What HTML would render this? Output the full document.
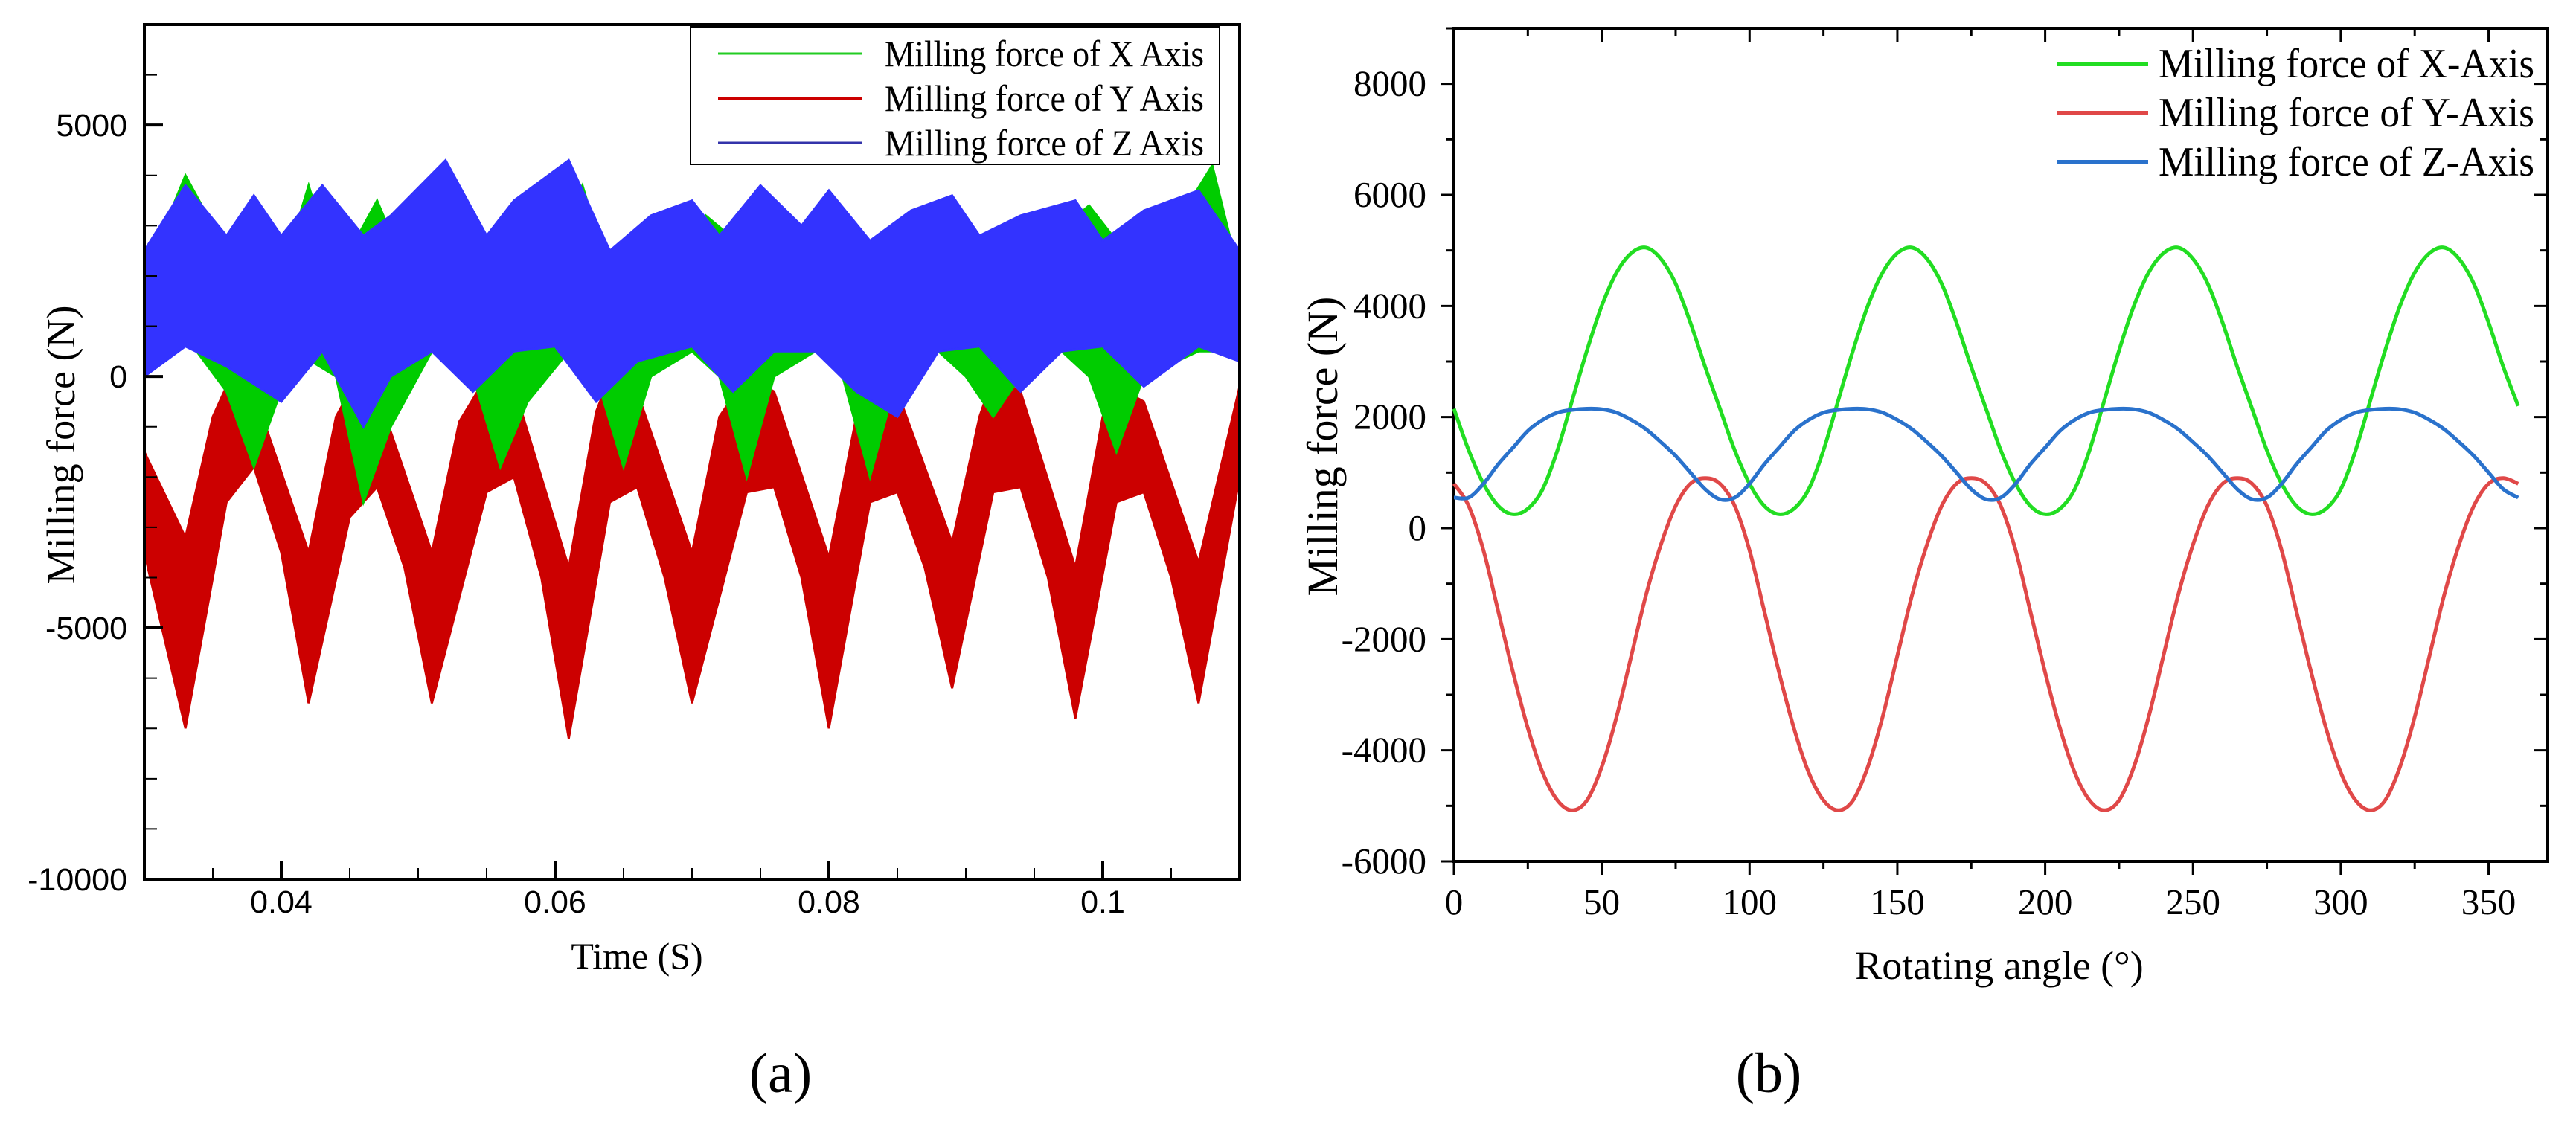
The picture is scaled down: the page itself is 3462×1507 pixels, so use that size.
<!DOCTYPE html>
<html><head><meta charset="utf-8"><style>
html,body{margin:0;padding:0;background:#fff}
svg{display:block}
</style></head><body>
<svg id="fig" width="3462" height="1507" viewBox="0 0 3462 1507" xmlns="http://www.w3.org/2000/svg">
<g id="chartA"></g>
<g id="chartB"></g>
<text x="1049" y="1468" font-family="Liberation Serif, serif" font-size="76" text-anchor="middle">(a)</text>
<text x="2377" y="1468" font-family="Liberation Serif, serif" font-size="76" text-anchor="middle">(b)</text>
</svg>
<script>
// ===== Chart A data (envelopes of noisy signals, [time, force]) =====
const aXTicks=[0.04,0.06,0.08,0.1];
const aXTickLabels=["0.04","0.06","0.08","0.1"];
const aYTicks=[5000,0,-5000,-10000];
const aYTickLabels=["5000","0","-5000","-10000"];
const aSeriesNames=["Milling force of X Axis","Milling force of Y Axis","Milling force of Z Axis"];
const yUpper=[[0.030,-1500],[0.033,-3200],[0.035,-800],[0.036,-200],[0.038,-300],[0.042,-3500],[0.044,-800],[0.045,-300],[0.047,-300],[0.051,-3500],[0.053,-900],[0.055,0],[0.057,-200],[0.061,-3800],[0.063,-700],[0.064,0],[0.066,-300],[0.070,-3500],[0.072,-800],[0.074,0],[0.076,-300],[0.080,-3600],[0.082,-800],[0.083,0],[0.085,-300],[0.089,-3300],[0.091,-800],[0.092,0],[0.094,-300],[0.098,-3800],[0.100,-800],[0.101,-200],[0.103,-500],[0.107,-3700],[0.110,-200]];
const yLower=[[0.030,-3500],[0.033,-7000],[0.036,-2500],[0.038,-1800],[0.040,-3500],[0.042,-6500],[0.045,-2800],[0.047,-2200],[0.049,-3800],[0.051,-6500],[0.055,-2300],[0.057,-2000],[0.059,-4000],[0.061,-7200],[0.064,-2500],[0.066,-2200],[0.068,-4000],[0.070,-6500],[0.074,-2300],[0.076,-2200],[0.078,-4000],[0.080,-7000],[0.083,-2500],[0.085,-2300],[0.087,-3800],[0.089,-6200],[0.092,-2300],[0.094,-2200],[0.096,-4000],[0.098,-6800],[0.101,-2500],[0.103,-2300],[0.105,-4000],[0.107,-6500],[0.110,-2000]];
const xUpper=[[0.030,2000],[0.033,4000],[0.036,2500],[0.038,3500],[0.040,2000],[0.042,3800],[0.044,2000],[0.047,3500],[0.049,2200],[0.052,3800],[0.054,2000],[0.057,3000],[0.059,2000],[0.062,3800],[0.064,2000],[0.066,2800],[0.069,2000],[0.071,3200],[0.075,2300],[0.080,3300],[0.084,2000],[0.089,3300],[0.093,2000],[0.099,3400],[0.103,2000],[0.108,4200],[0.110,2000]];
const xLower=[[0.030,500],[0.033,800],[0.036,-300],[0.038,-1800],[0.041,500],[0.044,0],[0.046,-2500],[0.048,-1000],[0.051,500],[0.054,0],[0.056,-1800],[0.058,-500],[0.061,500],[0.063,0],[0.065,-1800],[0.067,0],[0.070,500],[0.072,0],[0.074,-2000],[0.076,0],[0.079,500],[0.081,0],[0.083,-2000],[0.085,0],[0.088,500],[0.090,0],[0.092,-800],[0.094,0],[0.097,500],[0.099,0],[0.101,-1500],[0.103,0],[0.107,500],[0.110,500]];
const zUpper=[[0.030,2500],[0.033,3800],[0.036,2800],[0.038,3600],[0.040,2800],[0.043,3800],[0.046,2800],[0.048,3200],[0.052,4300],[0.055,2800],[0.057,3500],[0.061,4300],[0.064,2500],[0.067,3200],[0.070,3500],[0.072,2800],[0.075,3800],[0.078,3000],[0.080,3700],[0.083,2700],[0.086,3300],[0.089,3600],[0.091,2800],[0.094,3200],[0.098,3500],[0.100,2700],[0.103,3300],[0.107,3700],[0.110,2500]];
const zLower=[[0.030,0],[0.033,600],[0.036,200],[0.040,-500],[0.043,500],[0.046,-1000],[0.048,0],[0.051,500],[0.054,-300],[0.057,500],[0.060,600],[0.063,-500],[0.066,300],[0.070,600],[0.073,-300],[0.076,500],[0.079,500],[0.082,-300],[0.085,-800],[0.088,500],[0.091,600],[0.094,-300],[0.097,500],[0.100,600],[0.103,-200],[0.107,600],[0.110,300]];

// ===== Chart B data (angle step 5°, 0..360) =====
const bAngles=[];for(let i=0;i<=72;i++)bAngles.push(i*5);
const bX=[2150,1400,800,400,250,350,700,1400,2300,3200,4000,4600,4950,5050,4850,4400,3700,2900,
2150,1400,800,400,250,350,700,1400,2300,3200,4000,4600,4950,5050,4850,4400,3700,2900,
2150,1400,800,400,250,350,700,1400,2300,3200,4000,4600,4950,5050,4850,4400,3700,2900,
2150,1400,800,400,250,350,700,1400,2300,3200,4000,4600,4950,5050,4850,4400,3700,2900,2200];
const bY=[800,400,-400,-1500,-2600,-3600,-4400,-4900,-5080,-4900,-4300,-3400,-2300,-1200,-300,400,800,900,
800,400,-400,-1500,-2600,-3600,-4400,-4900,-5080,-4900,-4300,-3400,-2300,-1200,-300,400,800,900,
800,400,-400,-1500,-2600,-3600,-4400,-4900,-5080,-4900,-4300,-3400,-2300,-1200,-300,400,800,900,
800,400,-400,-1500,-2600,-3600,-4400,-4900,-5080,-4900,-4300,-3400,-2300,-1200,-300,400,800,900,800];
const bZ=[550,550,800,1150,1450,1750,1950,2080,2130,2150,2140,2080,1950,1780,1550,1300,1000,700,
520,550,800,1150,1450,1750,1950,2080,2130,2150,2140,2080,1950,1780,1550,1300,1000,700,
520,550,800,1150,1450,1750,1950,2080,2130,2150,2140,2080,1950,1780,1550,1300,1000,700,
520,550,800,1150,1450,1750,1950,2080,2130,2150,2140,2080,1950,1780,1550,1300,1000,700,550];
const bXTicks=[0,50,100,150,200,250,300,350];
const bYTicks=[8000,6000,4000,2000,0,-2000,-4000,-6000];
const bSeriesNames=["Milling force of X-Axis","Milling force of Y-Axis","Milling force of Z-Axis"];

const NS="http://www.w3.org/2000/svg";
function mk(parent,tag,attrs,txt){const e=document.createElementNS(NS,tag);for(const k in attrs)e.setAttribute(k,attrs[k]);if(txt!==undefined)e.textContent=txt;parent.appendChild(e);return e;}

// ---- Chart A ----
(function(){
const g=document.getElementById('chartA');
const L=194,R=1666,T=33,B=1182;
const sx=t=>L+(t-0.03)/(0.11-0.03)*(R-L);
const sy=v=>B-(v+10000)/17000*(B-T);
const clip=mk(g,'clipPath',{id:'clipA'});mk(clip,'rect',{x:L,y:T,width:R-L,height:B-T});
const bands=[[yUpper,yLower,'#cc0000','band-y-axis'],[xUpper,xLower,'#00cc00','band-x-axis'],[zUpper,zLower,'#3333ff','band-z-axis']];
for(const [u,l,c,n] of bands){
  const pts=u.map(p=>sx(p[0]).toFixed(1)+','+sy(p[1]).toFixed(1)).concat(l.slice().reverse().map(p=>sx(p[0]).toFixed(1)+','+sy(p[1]).toFixed(1)));
  const p=mk(g,'polygon',{points:pts.join(' '),fill:c,stroke:c,'stroke-width':3,'clip-path':'url(#clipA)'});
  
  
}
const fr=mk(g,'rect',{x:L,y:T,width:R-L,height:B-T,fill:'none',stroke:'#000','stroke-width':4});

for(let v=-10000;v<=7000;v+=1000){const y=sy(v);const maj=v%5000===0;mk(g,'line',{x1:L,y1:y,x2:L+(maj?25:17),y2:y,stroke:'#000','stroke-width':maj?4:2});}
aYTicks.forEach((v,i)=>{const t=mk(g,'text',{x:171,y:sy(v)+15,'text-anchor':'end','font-family':'Liberation Sans, sans-serif','font-size':43},aYTickLabels[i]);});
for(let k=0;k<=16;k++){const t0=0.03+k*0.005;const x=sx(t0);const maj=(k%4===2);mk(g,'line',{x1:x,y1:B,x2:x,y2:B-(maj?25:15),stroke:'#000','stroke-width':maj?4:2});}
aXTicks.forEach((v,i)=>{const t=mk(g,'text',{x:sx(v),y:1227,'text-anchor':'middle','font-family':'Liberation Sans, sans-serif','font-size':43},aXTickLabels[i]);});
const xt=mk(g,'text',{x:856,y:1302,'text-anchor':'middle','font-family':'Liberation Serif, serif','font-size':50},'Time (S)');

const yt=mk(g,'text',{x:0,y:0,transform:'translate(100,598) rotate(-90)','text-anchor':'middle','font-family':'Liberation Serif, serif','font-size':54},'Milling force (N)');

const lg=mk(g,'g',{});
mk(lg,'rect',{x:928,y:36,width:711,height:185,fill:'#fff',stroke:'#000','stroke-width':2});
const cols=['#22cc22','#cc0000','#3333aa'];const ys=[72,132,192];
aSeriesNames.forEach((n,i)=>{const e=mk(lg,'g',{});
 mk(e,'line',{x1:965,y1:ys[i],x2:1158,y2:ys[i],stroke:cols[i],'stroke-width':i==1?4:3});
 mk(e,'text',{x:1189,y:ys[i]+17,'font-family':'Liberation Serif, serif','font-size':50,textLength:429,lengthAdjust:'spacingAndGlyphs'},n);});
})();

// ---- Chart B ----
(function(){
const g=document.getElementById('chartB');
const L=1954,R=3424,T=38,B=1158;
const sx=a=>L+a/370*(R-L);
const sy=v=>B-(v+6000)/15000*(B-T);
const fr=mk(g,'rect',{x:L,y:T,width:R-L,height:B-T,fill:'none',stroke:'#000','stroke-width':4});

for(let v=-6000;v<=9000;v+=1000){const y=sy(v);const maj=v%2000===0;const len=maj?18:10;
 mk(g,'line',{x1:L-len,y1:y,x2:L,y2:y,stroke:'#000','stroke-width':3});
 mk(g,'line',{x1:R-len,y1:y,x2:R,y2:y,stroke:'#000','stroke-width':3});}
for(let a=0;a<=370;a+=25){const x=sx(a);const maj=a%50===0;const len=maj?18:10;
 mk(g,'line',{x1:x,y1:B,x2:x,y2:B+len,stroke:'#000','stroke-width':3});
 mk(g,'line',{x1:x,y1:T,x2:x,y2:T+len,stroke:'#000','stroke-width':3});}
bYTicks.forEach(v=>{const t=mk(g,'text',{x:1917,y:sy(v)+16,'text-anchor':'end','font-family':'Liberation Serif, serif','font-size':49},String(v));});
bXTicks.forEach(v=>{const t=mk(g,'text',{x:sx(v),y:1229,'text-anchor':'middle','font-family':'Liberation Serif, serif','font-size':49},String(v));});
const xt=mk(g,'text',{x:2687,y:1316,'text-anchor':'middle','font-family':'Liberation Serif, serif','font-size':54},'Rotating angle (°)');

const yt=mk(g,'text',{x:0,y:0,transform:'translate(1797,600) rotate(-90)','text-anchor':'middle','font-family':'Liberation Serif, serif','font-size':58},'Milling force (N)');

function smooth(xs,vs){let d='M'+sx(xs[0]).toFixed(1)+','+sy(vs[0]).toFixed(1);
 for(let i=0;i<xs.length-1;i++){const p0=[sx(xs[Math.max(i-1,0)]),sy(vs[Math.max(i-1,0)])],p1=[sx(xs[i]),sy(vs[i])],p2=[sx(xs[i+1]),sy(vs[i+1])],p3=[sx(xs[Math.min(i+2,xs.length-1)]),sy(vs[Math.min(i+2,xs.length-1)])];
 const c1=[p1[0]+(p2[0]-p0[0])/6,p1[1]+(p2[1]-p0[1])/6],c2=[p2[0]-(p3[0]-p1[0])/6,p2[1]-(p3[1]-p1[1])/6];
 d+=' C'+c1[0].toFixed(1)+','+c1[1].toFixed(1)+' '+c2[0].toFixed(1)+','+c2[1].toFixed(1)+' '+p2[0].toFixed(1)+','+p2[1].toFixed(1);}
 return d;}
const cols=['#22dd22','#e04848','#2a72cc'];const data=[bX,bY,bZ];const names=['line-x-axis','line-y-axis','line-z-axis'];
data.forEach((vs,i)=>{const p=mk(g,'path',{d:smooth(bAngles,vs),fill:'none',stroke:cols[i],'stroke-width':5});
 
 });
const lg=mk(g,'g',{});
const ys=[86,152,218];
bSeriesNames.forEach((n,i)=>{const e=mk(lg,'g',{});
 mk(e,'line',{x1:2765,y1:ys[i],x2:2887,y2:ys[i],stroke:cols[i],'stroke-width':6});
 mk(e,'text',{x:2901,y:ys[i]+18,'font-family':'Liberation Serif, serif','font-size':56,textLength:505,lengthAdjust:'spacingAndGlyphs'},n);});
})();
</script>
</body></html>
